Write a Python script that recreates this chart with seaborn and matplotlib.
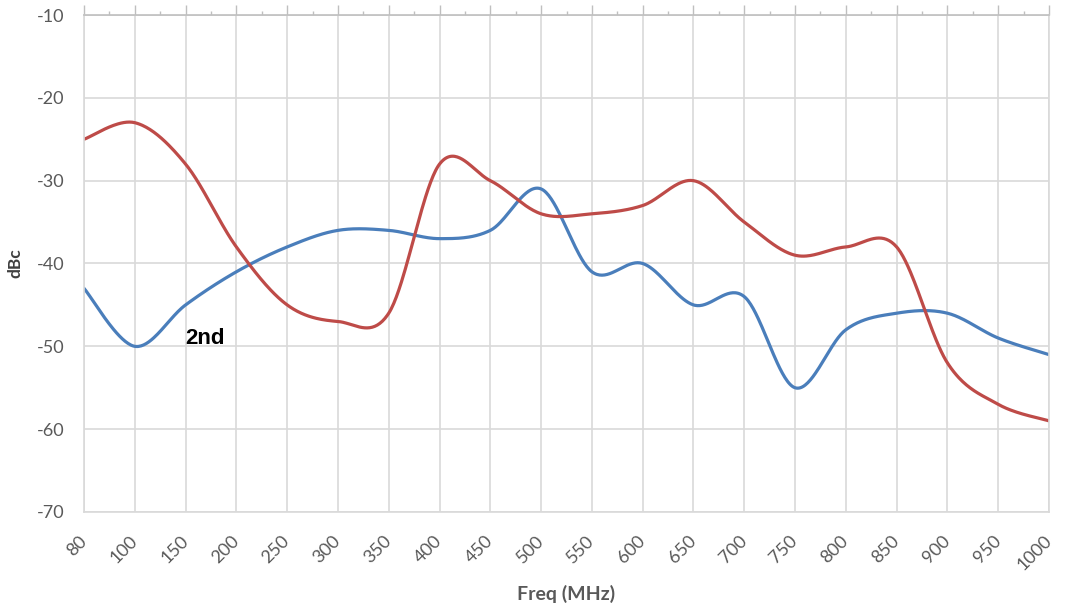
import numpy as np
import pandas as pd
import matplotlib
matplotlib.use("Agg")
import matplotlib.pyplot as plt
import seaborn as sns

# ---- data ----
freq_labels = ["80", "100", "150", "200", "250", "300", "350", "400", "450", "500",
               "550", "600", "650", "700", "750", "800", "850", "900", "950", "1000"]
blue_vals = [-43, -50, -45, -41, -38, -36, -36, -37, -36, -31,
             -41, -40, -45, -44, -55, -48, -46, -46, -49, -51]
red_vals = [-25, -23, -28, -38, -45, -47, -46, -28, -30, -34,
            -34, -33, -30, -35, -39, -38, -38, -52, -57, -59]
y_ticks = [-70, -60, -50, -40, -30, -20, -10]
annot_text = "2nd"
annot_pos = (2, -49)

BLUE = "#4A7EBB"
RED = "#BE4B48"
GRID = "#D9D9D9"
TXT = "#595959"


def smooth(values, n=40):
    """Excel-like smoothed line: cubic Bezier through points (Catmull-Rom)."""
    p = np.column_stack([np.arange(len(values), dtype=float), np.asarray(values, float)])
    pts = np.vstack([p[0], p, p[-1]])
    out = []
    t = np.linspace(0, 1, n, endpoint=False)[:, None]
    for i in range(1, len(pts) - 2):
        p0, p1, p2, p3 = pts[i - 1], pts[i], pts[i + 1], pts[i + 2]
        c1 = p1 + (p2 - p0) / 6.0
        c2 = p2 - (p3 - p1) / 6.0
        seg = ((1 - t) ** 3) * p1 + 3 * ((1 - t) ** 2) * t * c1 + 3 * (1 - t) * t ** 2 * c2 + t ** 3 * p2
        out.append(seg)
    out.append(p[-1][None, :])
    return np.vstack(out)


frames = []
for name, vals in [("blue", blue_vals), ("red", red_vals)]:
    s = smooth(vals)
    frames.append(pd.DataFrame({"x": s[:, 0], "y": s[:, 1], "series": name}))
df = pd.concat(frames, ignore_index=True)

sns.set_theme(style="white")
plt.rcParams["font.family"] = ["Lato", "DejaVu Sans"]

fig = plt.figure(figsize=(10.69, 6.10), dpi=100)
ax = fig.add_axes([84 / 1069, 1 - 512 / 610, (1049 - 84) / 1069, (512 - 15) / 610])

sns.lineplot(data=df, x="x", y="y", hue="series", palette={"blue": BLUE, "red": RED},
             sort=False, estimator=None, linewidth=2.3, legend=False, ax=ax)

ax.set_xlim(0, len(freq_labels) - 1)
ax.set_ylim(-70, -10)
ax.set_yticks(y_ticks)
ax.set_yticklabels([str(v) for v in y_ticks], fontsize=13, color=TXT)
ax.set_xticks(range(len(freq_labels)))
ax.set_xticklabels(freq_labels, rotation=45, ha="right", va="center",
                   rotation_mode="anchor", fontsize=13, color=TXT)
ax.set_xticks(np.arange(0.5, len(freq_labels) - 1, 1.0), minor=True)

ax.grid(True, which="major", color=GRID, linewidth=1.2)
ax.set_axisbelow(True)
ax.tick_params(axis="x", which="both", bottom=False, top=True, labelbottom=True,
               labeltop=False, direction="out", color="#BFBFBF", width=1.0)
ax.tick_params(axis="x", which="major", length=7, pad=12)
ax.tick_params(axis="x", which="minor", length=3)
ax.tick_params(axis="y", length=0, pad=14)

for side in ["left", "bottom", "right"]:
    ax.spines[side].set_color(GRID)
    ax.spines[side].set_linewidth(1.2)
ax.spines["top"].set_color("#BFBFBF")
ax.spines["top"].set_linewidth(1.2)

ax.set_xlabel("Freq (MHz)", fontsize=14, fontweight="bold", color=TXT, labelpad=8)
ax.set_ylabel("dBc", fontsize=12.5, fontweight="bold", color="#404040", labelpad=10)

ax.text(annot_pos[0], annot_pos[1], annot_text, fontsize=16, fontweight="bold",
        family=["Liberation Sans", "DejaVu Sans"], color="black", ha="left", va="center")

fig.savefig("out.png", dpi=100)
